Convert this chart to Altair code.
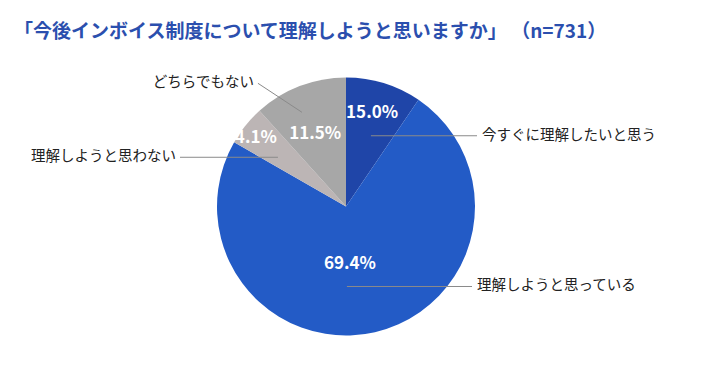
import math
import altair as alt
import pandas as pd

# ---- data ----
categories = ["今すぐに理解したいと思う", "理解しようと思っている", "理解しようと思わない", "どちらでもない"]
# slice sizes as drawn in the picture (in %)
values = [9.5, 73.8, 5.0, 11.7]
# printed labels
pct_labels = ["15.0%", "69.4%", "4.1%", "11.5%"]
title_text = "「今後インボイス制度について理解しようと思いますか」 （n=731）"

# ---- style / layout ----
colors = ["#1f45a8", "#235bc6", "#bcb5b5", "#a7a7a7"]
W, H = 704, 361
CX, CY, R = 338, 198.5, 129
FONT = "Noto Sans CJK JP"
# percent label placement: (angle shift from slice middle in degrees, radius)
pct_place = [(-1.5, 97), (9.0, 58), (-1.8, 113), (-1.9, 79)]
# leader line start (angle shift deg, radius); end: horizontal to x offset, or explicit offset
lead_start = [(2.3, 75), (12.3, 80), (-3.0, 84), (-4.0, 104)]
lead_end = [("h", 131), ("h", 126), ("h", -166), ("d", (-44, -29))]

total = sum(values)
rows = []
cum = 0.0
for i, (c, v) in enumerate(zip(categories, values)):
    a0 = cum / total * 2 * math.pi
    cum += v
    a1 = cum / total * 2 * math.pi
    mid = (a0 + a1) / 2
    la = mid + math.radians(pct_place[i][0])
    lr = pct_place[i][1]
    sa = mid + math.radians(lead_start[i][0])
    sr = lead_start[i][1]
    sx = CX + sr * math.sin(sa)
    sy = CY - sr * math.cos(sa)
    kind, off = lead_end[i]
    if kind == "h":
        ex, ey = CX + off, sy
    else:
        ex, ey = sx + off[0], sy + off[1]
    right = ex > CX
    rows.append(dict(
        cat=c, val=v, pct=pct_labels[i], order=i,
        t0=a0, t1=a1,
        px=CX + lr * math.sin(la), py=CY - lr * math.cos(la),
        sx=sx, sy=sy, ex=ex, ey=ey,
        tx=ex + 5 if right else ex - 4, ty=ey,
        side="left" if right else "right",
    ))
df = pd.DataFrame(rows)

color_scale = alt.Scale(domain=categories, range=colors)

pie = alt.Chart(df).mark_arc(radius=R).encode(
    theta=alt.Theta("t0:Q", scale=None),
    theta2="t1:Q",
    x=alt.value(CX),
    y=alt.value(CY),
    color=alt.Color("cat:N", scale=color_scale, legend=None),
    order=alt.Order("order:Q"),
)

pct = alt.Chart(df).mark_text(
    font=FONT, fontSize=17, fontWeight="bold", color="white", align="center", baseline="middle"
).encode(
    x=alt.X("px:Q", scale=None), y=alt.Y("py:Q", scale=None), text="pct:N"
)

lead = alt.Chart(df).mark_rule(color="#8a8a8a", strokeWidth=1).encode(
    x=alt.X("sx:Q", scale=None), y=alt.Y("sy:Q", scale=None),
    x2="ex:Q", y2="ey:Q",
)

lab_r = alt.Chart(df[df.side == "left"]).mark_text(
    font=FONT, fontSize=14.5, color="#222222", align="left", baseline="middle"
).encode(x=alt.X("tx:Q", scale=None), y=alt.Y("ty:Q", scale=None), text="cat:N")

lab_l = alt.Chart(df[df.side == "right"]).mark_text(
    font=FONT, fontSize=14.5, color="#222222", align="right", baseline="middle"
).encode(x=alt.X("tx:Q", scale=None), y=alt.Y("ty:Q", scale=None), text="cat:N")

title = alt.Chart(pd.DataFrame({"t": [title_text]})).mark_text(
    font=FONT, fontSize=19, fontWeight="bold", color="#2b4fae", align="left", baseline="middle"
).encode(x=alt.value(6), y=alt.value(24), text="t:N")

chart = alt.layer(pie, lead, pct, lab_r, lab_l, title).properties(
    width=W, height=H, padding=0
).configure_view(stroke=None)

chart.save("out.html", embed_options={"renderer": "svg", "actions": False})
